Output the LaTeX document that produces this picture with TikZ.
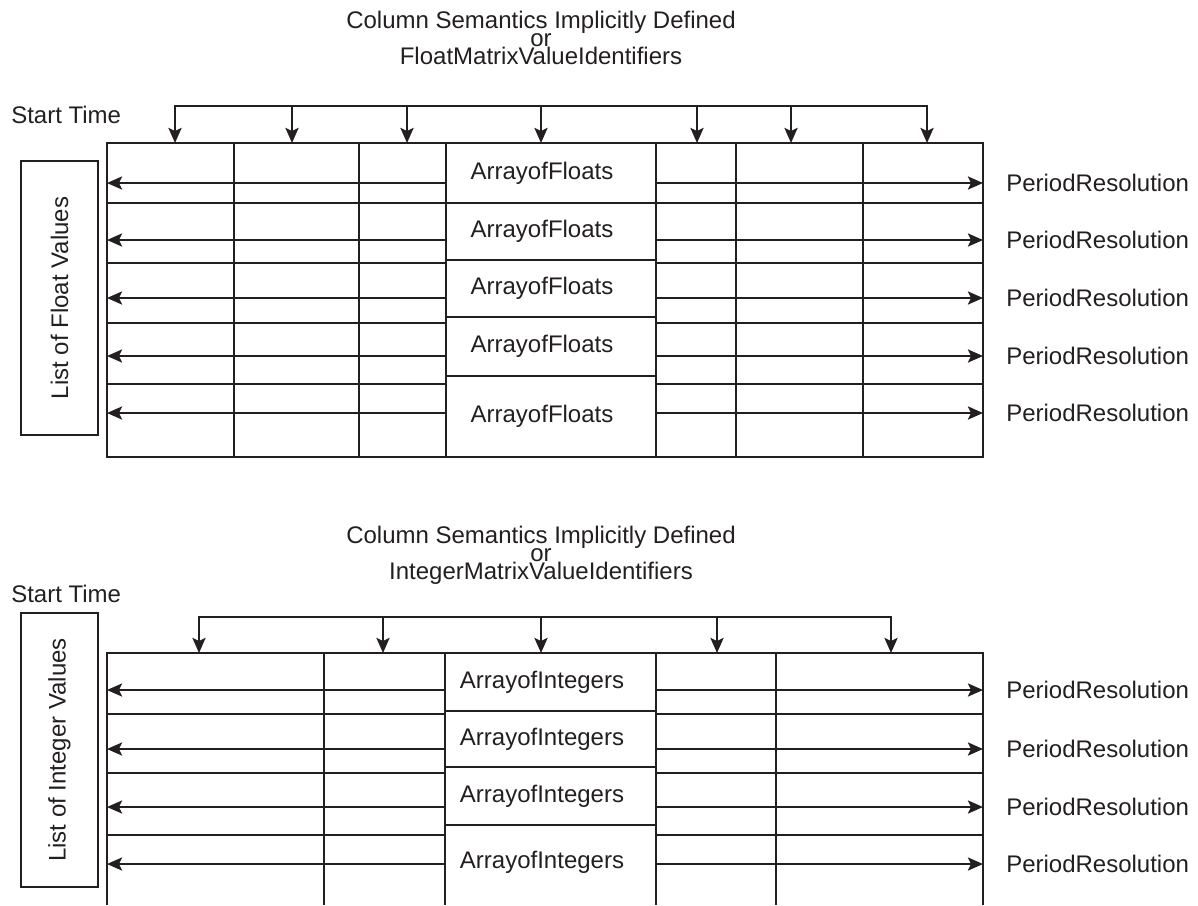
\documentclass[tikz,border=0pt]{standalone}
\usepackage{fontspec}
\setmainfont{Liberation Sans}
\usetikzlibrary{arrows.meta}
\definecolor{ink}{RGB}{35,31,32}

\begin{document}
\begin{tikzpicture}[
  x=0.5pt, y=-0.5pt,
  color=ink, line width=1.25pt,
  >={Stealth[length=7.5pt,width=6.5pt,inset=1.5pt]},
  lbl/.style={font=\fontsize{12}{9}\selectfont, text=ink, inner sep=0pt},
  sidebox/.style={draw=ink, line width=1.25pt, rotate=90, minimum width=137pt, minimum height=38.5pt, lbl},
]
\useasboundingbox (0,0) rectangle (1198,905);

% ---- float matrix: labels ----
\node[lbl, align=center] (FT) at (541,38) {Column Semantics Implicitly Defined\\or\\FloatMatrixValueIdentifiers};
\node[lbl, anchor=west] (FS) at (10,115) {Start Time};
\node[sidebox] (FV) at (59.5,298) {List of Float Values};

% ---- float matrix: grid ----
\draw (107,143) rectangle (983,457);
\foreach \x in {234,359,446,656,736,863} \draw (\x,143) -- (\x,457);
\foreach \y in {203,263,323,384} {\draw (107,\y) -- (446,\y); \draw (656,\y) -- (983,\y);}
\foreach \y in {203,260,317,376} \draw (446,\y) -- (656,\y);
\foreach \y [count=\i] in {173,231.5,288.5,346.5,416} \node[lbl] (AF\i) at (542,\y) {ArrayofFloats};

% ---- float matrix: period arrows ----
\foreach \y [count=\i] in {183,240,298,356,413} {
  \coordinate (fa\i) at (446,\y); \coordinate (fl\i) at (107,\y);
  \coordinate (fb\i) at (656,\y); \coordinate (fr\i) at (983,\y);
  \draw[->] (fa\i) -- (fl\i);
  \draw[->] (fb\i) -- (fr\i);
  \node[lbl, anchor=west] (FP\i) at (1005,\y) {PeriodResolution};
}

% ---- float matrix: column bracket ----
\foreach \x [count=\i] in {175,292,407,541,697,791,927} {
  \coordinate (fd\i) at (\x,106); \coordinate (fe\i) at (\x,143);
}
\draw[->] (fd4) -| (fe1);
\draw[->] (fd4) -| (fe7);
\foreach \i in {2,...,6} \draw[->] (fd\i) -- (fe\i);

% ---- integer matrix: labels ----
\node[lbl, align=center] (IT) at (541,555) {Column Semantics Implicitly Defined\\or\\IntegerMatrixValueIdentifiers};
\node[lbl, anchor=west] (IS) at (10,594) {Start Time};
\node[sidebox] (IV) at (59.5,750) {List of Integer Values};

% ---- integer matrix: grid ----
\draw (107,905) -- (107,653) -- (983,653) -- (983,905);
\foreach \x in {324,445,656,776} \draw (\x,653) -- (\x,905);
\foreach \y in {714,773,835} {\draw (107,\y) -- (445,\y); \draw (656,\y) -- (983,\y);}
\foreach \y in {711,767,825} \draw (445,\y) -- (656,\y);
\foreach \y [count=\i] in {682,739,796,862} \node[lbl] (AI\i) at (542,\y) {ArrayofIntegers};

% ---- integer matrix: period arrows ----
\foreach \y [count=\i] in {690,749,807,864} {
  \coordinate (ia\i) at (445,\y); \coordinate (il\i) at (107,\y);
  \coordinate (ib\i) at (656,\y); \coordinate (ir\i) at (983,\y);
  \draw[->] (ia\i) -- (il\i);
  \draw[->] (ib\i) -- (ir\i);
  \node[lbl, anchor=west] (IP\i) at (1005,\y) {PeriodResolution};
}

% ---- integer matrix: column bracket ----
\foreach \x [count=\i] in {199,383,541,717,891} {
  \coordinate (id\i) at (\x,617); \coordinate (ie\i) at (\x,653);
}
\draw[->] (id3) -| (ie1);
\draw[->] (id3) -| (ie5);
\foreach \i in {2,...,4} \draw[->] (id\i) -- (ie\i);

\end{tikzpicture}
\end{document}
